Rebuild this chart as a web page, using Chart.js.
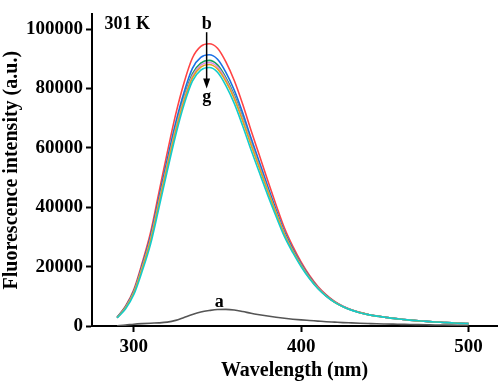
<!DOCTYPE html>
<html>
<head>
<meta charset="utf-8">
<script src="https://cdn.jsdelivr.net/npm/chart.js@4.4.1/dist/chart.umd.min.js"></script>
<style>
  html, body { margin: 0; padding: 0; background: #fff; }
  #wrap { width: 498px; height: 383px; }
</style>
</head>
<body>
<div id="wrap"><canvas id="chart" width="498" height="383"></canvas></div>
<script>
// Wavelength (nm), 290..500 step 5
const wavelengths = [290, 295, 300, 305, 310, 315, 320, 325, 330, 335, 340, 345, 350, 355, 360, 365, 370, 375, 380, 385, 390, 395, 400, 405, 410, 415, 420, 425, 430, 435, 440, 445, 450, 455, 460, 465, 470, 475, 480, 485, 490, 495, 500];

// Fluorescence intensity (a.u.)
const curveA = [100, 300, 600, 800, 950, 1050, 1300, 1900, 2900, 3900, 4700, 5200, 5550, 5600, 5400, 4900, 4300, 3800, 3350, 2950, 2600, 2300, 2050, 1850, 1650, 1450, 1300, 1150, 1050, 950, 850, 750, 680, 620, 560, 500, 450, 400, 350, 320, 290, 260, 230];
const curveB = [3000, 6700, 12300, 21300, 31500, 45000, 58500, 71300, 82000, 90300, 94200, 95100, 93600, 89000, 82700, 74800, 66000, 57500, 49000, 40800, 33000, 26800, 21500, 17000, 13300, 10500, 8300, 6700, 5500, 4600, 3900, 3400, 3000, 2600, 2300, 2000, 1750, 1550, 1350, 1200, 1050, 900, 800];
const curveC = [2900, 6450, 11800, 20500, 30300, 43200, 56200, 68500, 78800, 86800, 90500, 91400, 89900, 85500, 79500, 71900, 63400, 55300, 47100, 39200, 31800, 25900, 20800, 16500, 12950, 10250, 8120, 6580, 5420, 4540, 3860, 3370, 2980, 2590, 2290, 1990, 1745, 1545, 1345, 1195, 1045, 900, 800];
const curveD = [2850, 6300, 11500, 20000, 29600, 42300, 55000, 67100, 77200, 85000, 88600, 89500, 88000, 83700, 77800, 70300, 62000, 54000, 46100, 38500, 31300, 25500, 20500, 16300, 12800, 10150, 8050, 6530, 5380, 4510, 3840, 3350, 2970, 2580, 2280, 1990, 1740, 1540, 1340, 1190, 1040, 895, 795];
const curveE = [2800, 6200, 11350, 19800, 29300, 41900, 54500, 66500, 76600, 84300, 87900, 88800, 87300, 83100, 77200, 69800, 61600, 53700, 45800, 38200, 31100, 25350, 20400, 16200, 12750, 10100, 8020, 6510, 5370, 4500, 3830, 3340, 2960, 2580, 2280, 1990, 1740, 1540, 1340, 1190, 1040, 895, 795];
const curveF = [2750, 6100, 11200, 19500, 28900, 41400, 53900, 65800, 75900, 83600, 87200, 88100, 86600, 82400, 76600, 69200, 61100, 53300, 45500, 38000, 30900, 25200, 20300, 16150, 12700, 10080, 8000, 6500, 5360, 4500, 3830, 3340, 2960, 2580, 2280, 1990, 1740, 1540, 1340, 1190, 1040, 895, 795];
const curveG = [2700, 5700, 10600, 18500, 27600, 39800, 52300, 64300, 74600, 82500, 86200, 87100, 85500, 81000, 75000, 67500, 59400, 51700, 44100, 36900, 30100, 24700, 19950, 15900, 12550, 10000, 7950, 6470, 5350, 4490, 3830, 3340, 2960, 2580, 2280, 1990, 1745, 1545, 1345, 1195, 1045, 900, 810];

const xTicks = [300, 400, 500];
const yTicks = [0, 20000, 40000, 60000, 80000, 100000];

const FONT = "'Liberation Serif', 'Times New Roman', serif";

function series(label, values, color, order) {
  return {
    label: label,
    data: wavelengths.map((w, i) => ({ x: w, y: values[i] })),
    borderColor: color,
    borderWidth: 1.6,
    pointRadius: 0,
    fill: false,
    cubicInterpolationMode: "monotone",
    order: order,
  };
}

// text labels + arrow, placed in data coordinates
const notesPlugin = {
  id: "notes",
  afterDatasetsDraw(chart) {
    const ctx = chart.ctx;
    const xs = chart.scales.x;
    const ys = chart.scales.y;
    ctx.save();
    ctx.fillStyle = "#000";
    ctx.textBaseline = "middle";
    ctx.font = "bold 18px " + FONT;
    ctx.textAlign = "left";
    ctx.fillText("301 K", xs.getPixelForValue(282.5), ys.getPixelForValue(101800));
    ctx.textAlign = "center";
    ctx.fillText("b", xs.getPixelForValue(343.5), ys.getPixelForValue(101800));
    ctx.fillText("g", xs.getPixelForValue(343.5), ys.getPixelForValue(77000));
    ctx.fillText("a", xs.getPixelForValue(351), ys.getPixelForValue(8000));

    // arrow b -> g
    const ax = xs.getPixelForValue(343.5);
    const y0 = ys.getPixelForValue(99000);
    const y1 = ys.getPixelForValue(80000);
    ctx.strokeStyle = "#000";
    ctx.lineWidth = 1.5;
    ctx.beginPath();
    ctx.moveTo(ax, y0);
    ctx.lineTo(ax, y1 - 8);
    ctx.stroke();
    ctx.beginPath();
    ctx.moveTo(ax - 3.5, y1 - 10);
    ctx.lineTo(ax + 3.5, y1 - 10);
    ctx.lineTo(ax, y1);
    ctx.closePath();
    ctx.fill();
    ctx.restore();
  },
};

const ctx = document.getElementById("chart").getContext("2d");
new Chart(ctx, {
  type: "line",
  data: {
    datasets: [
      series("a", curveA, "#555555", 7),
      series("b", curveB, "#ff4444", 6),
      series("c", curveC, "#1a6fe6", 5),
      series("d", curveD, "#15a060", 4),
      series("e", curveE, "#d98be8", 3),
      series("f", curveF, "#e3a41a", 2),
      series("g", curveG, "#12cccc", 1),
    ],
  },
  options: {
    responsive: false,
    animation: false,
    layout: { padding: { top: 3, right: 1, left: 0, bottom: 0 } },
    plugins: {
      legend: { display: false },
      tooltip: { enabled: false },
    },
    scales: {
      x: {
        type: "linear",
        min: 275,
        max: 517,
        afterFit: (scale) => { scale.height = 57; },
        afterBuildTicks: (scale) => { scale.ticks = xTicks.map((v) => ({ value: v })); },
        grid: { drawOnChartArea: false, tickLength: 6, tickColor: "#000", tickWidth: 2 },
        border: { color: "#000", width: 2 },
        ticks: {
          color: "#000",
          padding: 4,
          maxRotation: 0,
          callback: (v) => String(v),
          font: { family: FONT, size: 19, weight: "bold" },
        },
        title: {
          display: true,
          text: "Wavelength (nm)",
          color: "#000",
          padding: { top: 0, bottom: 0 },
          font: { family: FONT, size: 20, weight: "bold" },
        },
      },
      y: {
        min: 0,
        max: 105000,
        afterFit: (scale) => { scale.width = 92; },
        afterBuildTicks: (scale) => { scale.ticks = yTicks.map((v) => ({ value: v })); },
        grid: { drawOnChartArea: false, tickLength: 6, tickColor: "#000", tickWidth: 2 },
        border: { color: "#000", width: 2 },
        ticks: {
          color: "#000",
          padding: 3,
          callback: (v) => String(v),
          font: { family: FONT, size: 19, weight: "bold" },
        },
        title: {
          display: true,
          text: "Fluorescence intensity (a.u.)",
          color: "#000",
          padding: { top: 0, bottom: 0 },
          font: { family: FONT, size: 20, weight: "bold" },
        },
      },
    },
  },
  plugins: [notesPlugin],
});
</script>
</body>
</html>
